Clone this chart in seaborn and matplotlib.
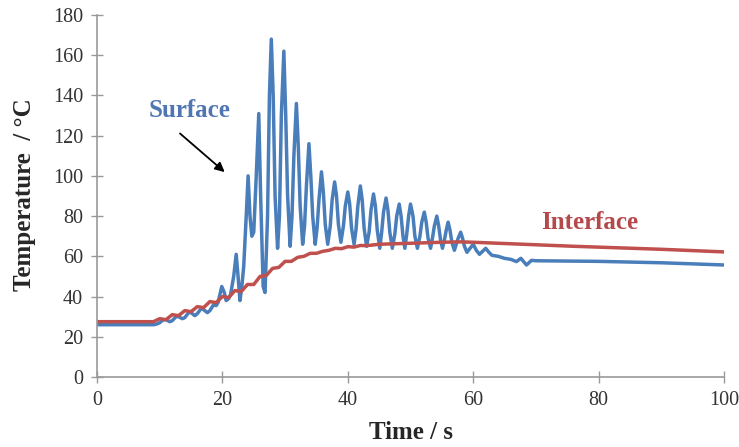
import matplotlib
matplotlib.use("Agg")
import matplotlib.pyplot as plt
import seaborn as sns
import pandas as pd

# ---- data ----
surface_t = [0, 9, 9.5, 10, 10.5, 11, 11.6, 12, 12.6, 13, 13.6, 14, 14.6, 15, 15.6, 16, 16.6,
             17, 17.6, 18, 18.6, 19, 19.3, 19.9, 20.3, 20.6, 21.0, 21.3, 21.8, 22.2, 22.5,
             22.8, 23.1, 23.4, 23.8, 24.1, 24.4, 24.7, 25.0, 25.4, 25.8, 26.1, 26.5, 26.8,
             27.2, 27.5, 27.8, 28.1, 28.4, 28.8, 29.1, 29.4, 29.8, 30.1, 30.4, 30.8, 31.1,
             31.4, 31.8, 32.1, 32.4, 32.8, 33.1, 33.4, 33.8, 34.1, 34.4, 34.8, 35.1, 35.4,
             35.8, 36.1, 36.4, 36.8, 37.2, 37.5, 37.9, 38.2, 38.5, 38.9, 39.3, 39.6, 40.0,
             40.3, 40.6, 41.0, 41.3, 41.6, 42.0, 42.3, 42.6, 43.0, 43.4, 43.7, 44.1, 44.4,
             44.7, 45.1, 45.4, 45.7, 46.1, 46.4, 46.7, 47.1, 47.5, 47.8, 48.2, 48.5, 48.8,
             49.1, 49.4, 49.7, 50.0, 50.4, 50.7, 51.1, 51.5, 51.8, 52.2, 52.5, 52.8, 53.2,
             53.5, 53.8, 54.2, 54.5, 54.8, 55.1, 55.4, 55.7, 56.0, 56.3, 56.6, 57.0, 57.3,
             57.6, 58.0, 58.3, 58.6, 59.0, 59.5, 60.0, 60.5, 61.0, 61.5, 62.0, 62.5, 63.0,
             64, 65, 66, 66.9, 67.6, 68.5, 69.3, 70, 80, 90, 100]
surface_T = [26, 26, 26.3, 27, 28.3, 28.5, 27.5, 28, 30, 30, 29, 29.5, 32, 32, 30.5, 31.5, 34,
             33.5, 32, 33, 36, 35.5, 37, 45, 42, 38, 39, 41, 50, 61, 50,
             38, 45, 55, 80, 100, 80, 70, 72, 100, 131, 90, 45, 42,
             80, 140, 168, 140, 90, 64, 80, 130, 162, 130, 90, 65, 80,
             110, 136, 115, 85, 66, 75, 95, 116, 100, 80, 66, 74, 88,
             102, 92, 76, 66, 75, 88, 97, 90, 76, 67, 75, 85, 92,
             86, 74, 66, 73, 85, 95, 88, 74, 65, 72, 83, 91, 85,
             73, 64, 72, 82, 89, 83, 72, 64, 71, 80, 86, 80, 70,
             64, 71, 80, 86, 80, 70, 64, 70, 77, 82, 77, 69, 64,
             69, 75, 80, 75, 68, 64, 68, 73, 77, 73, 67, 63, 66,
             69, 72, 69, 65, 62, 64, 66, 63, 61, 62.5, 64, 62, 60.5,
             60, 59, 58.5, 57.4, 59, 55.7, 58, 57.8, 57.5, 56.8, 55.7]

interface_t = [0, 9, 10, 11, 12, 13, 14, 15, 16, 17, 18, 19, 20, 21, 22, 23, 24, 25, 26,
               27, 28, 29, 30, 31, 32, 33, 34, 35, 36, 37, 38, 39, 40, 41, 42, 43, 45, 50,
               55, 58, 60, 76, 90, 100]
interface_T = [27.5, 27.5, 29, 28.5, 31, 30.5, 33, 32.5, 35, 34.5, 37.5, 37, 40, 39.5, 43, 42.5,
               46, 46, 50, 50.5, 54, 54.5, 57.5, 57.5, 59.5, 60, 61.5, 61.5, 62.5, 63, 64,
               63.8, 64.8, 64.6, 65.4, 65.3, 66, 66.5, 67, 67.2, 67, 65, 63.5, 62.2]

x_ticks = [0, 20, 40, 60, 80, 100]
y_ticks = [0, 20, 40, 60, 80, 100, 120, 140, 160, 180]

surface_df = pd.DataFrame({"Time": surface_t, "Temp": surface_T})
interface_df = pd.DataFrame({"Time": interface_t, "Temp": interface_T})

sns.set_style("ticks")
plt.rcParams["font.family"] = ["Liberation Serif", "DejaVu Serif"]

fig = plt.figure(figsize=(7.39, 4.47), dpi=100)
ax = fig.add_axes([97 / 739, 1 - 377 / 447, (724 - 97) / 739, (377 - 15) / 447])

blue = "#4A7EBB"
red = "#C0504D"
sns.lineplot(data=surface_df, x="Time", y="Temp", ax=ax, color=blue, linewidth=2.5,
             sort=False, solid_joinstyle="round", solid_capstyle="round")
sns.lineplot(data=interface_df, x="Time", y="Temp", ax=ax, color=red, linewidth=2.5,
             sort=False, solid_joinstyle="round", solid_capstyle="round")

ax.set_xlim(0, 100)
ax.set_ylim(0, 180)
ax.set_xticks(x_ticks)
ax.set_yticks(y_ticks)
ax.tick_params(direction="inout", length=8, width=1, color="#999999", labelsize=14.5,
               labelcolor="#333333", pad=6)
for s in ["top", "right"]:
    ax.spines[s].set_visible(False)
for s in ["left", "bottom"]:
    ax.spines[s].set_color("#999999")
    ax.spines[s].set_linewidth(1.2)

ax.set_xlabel("Time / s", fontsize=18, fontweight="bold", labelpad=8)
ax.set_ylabel("Temperature  / °C", fontsize=18, fontweight="bold")
ax.yaxis.set_label_coords(-0.097, 0.505)

ax.text(14.8, 132.5, "Surface", color="#4F76B3", fontsize=18, fontweight="bold",
        ha="center", va="center")
ax.text(78.6, 77, "Interface", color="#B5484A", fontsize=18, fontweight="bold",
        ha="center", va="center")
ax.annotate("", xy=(20.7, 101), xytext=(12.9, 122),
            arrowprops=dict(arrowstyle="-|>", color="black", lw=1.3, mutation_scale=14))

fig.savefig("out.png", dpi=100)
